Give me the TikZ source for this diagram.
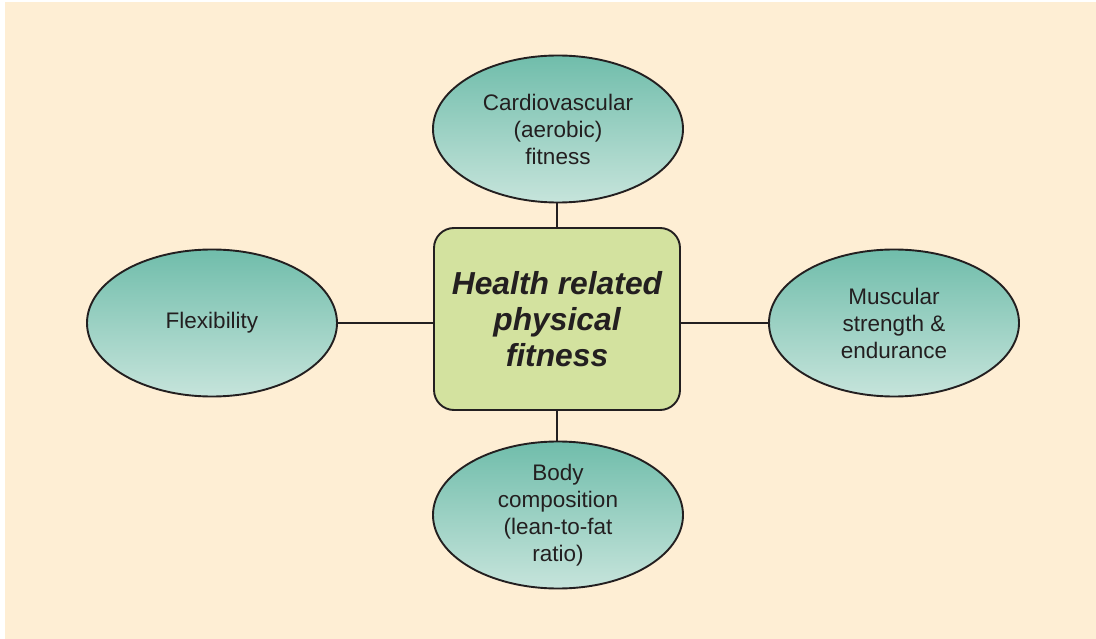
\documentclass[tikz,border=0pt]{standalone}
\usepackage{fontspec}
\setmainfont{Liberation Sans}
\usetikzlibrary{shapes.geometric}
\definecolor{bgpeach}{HTML}{FEEED4}
\definecolor{ovtop}{HTML}{70BDAB}
\definecolor{ovbot}{HTML}{C6E4DB}
\definecolor{boxgreen}{HTML}{D3E29F}
\definecolor{inkdark}{HTML}{231F20}
\tikzset{
  oval/.style={ellipse, draw=inkdark, line width=1.9pt, top color=ovtop, bottom color=ovbot,
    minimum width=250pt, minimum height=147pt, inner sep=0pt, align=center,
    text=inkdark, font=\fontsize{22.5}{27}\selectfont},
  hub/.style={rectangle, rounded corners=20pt, draw=inkdark, line width=1.9pt, fill=boxgreen,
    minimum width=246pt, minimum height=182pt, inner sep=0pt, align=center,
    text=inkdark, font=\fontsize{31.8}{36}\selectfont\bfseries\itshape},
  link/.style={draw=inkdark, line width=1.6pt}
}
\begin{document}
\begin{tikzpicture}[x=1pt,y=-1pt]
\useasboundingbox (0,0) rectangle (1096,639);
\fill[white] (0,0) rectangle (1096,639);
\fill[bgpeach] (5,2) rectangle (1096,639);
\node[hub] (hub) at (557,319) {Health related\\physical\\fitness};
\node[oval] (top) at (558,129) {Cardiovascular\\(aerobic)\\fitness};
\node[oval] (left) at (212,323) {Flexibility};
\node[oval] (right) at (894,323) {Muscular\\strength \&\\endurance};
\node[oval] (bottom) at (558,515) {Body\\composition\\(lean-to-fat\\ratio)};
\draw[link] (top.south -| hub.north) -- (hub.north);
\draw[link] (hub.south) -- (bottom.north -| hub.south);
\draw[link] (left.east) -- (left.east -| hub.west);
\draw[link] (hub.east |- right.west) -- (right.west);
\end{tikzpicture}
\end{document}
